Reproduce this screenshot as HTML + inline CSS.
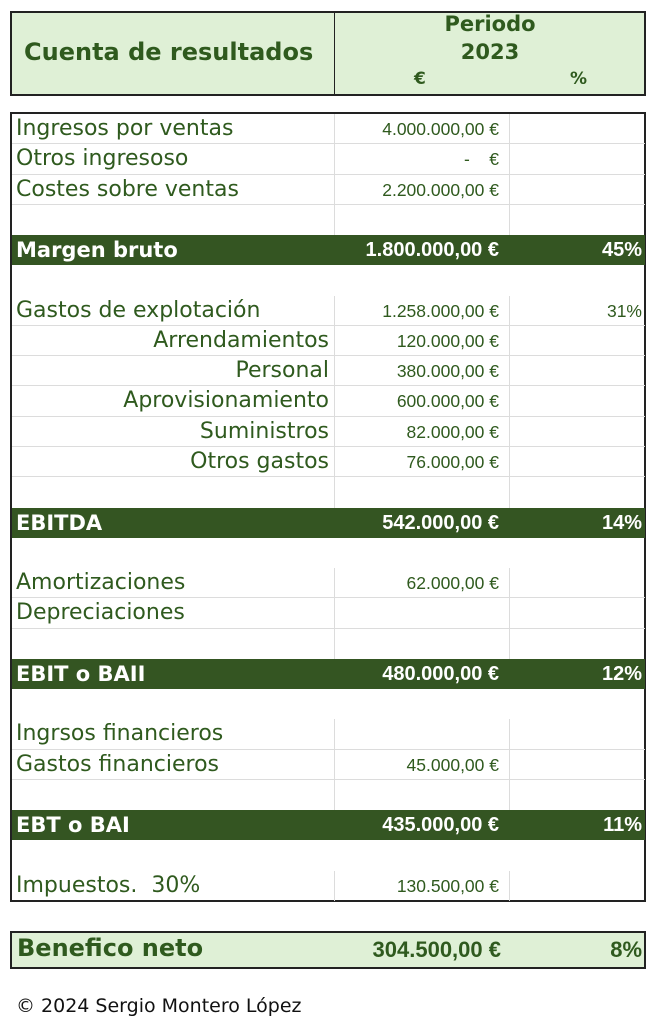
<!DOCTYPE html>
<html><head><meta charset="utf-8">
<style>
html,body{margin:0;padding:0;background:#fff;width:661px;height:1024px;overflow:hidden;position:relative;}
.box{position:absolute;box-sizing:border-box;border:2px solid #222;}
.t{position:absolute;white-space:pre;color:#2f5a1e;}
.lab{font-family:"DejaVu Sans","Liberation Sans",sans-serif;font-size:22px;line-height:26px;}
.num{font-family:"Liberation Sans",sans-serif;font-size:17.5px;text-align:right;}
.row{position:absolute;left:12px;width:633px;}
.dark{background:#345522;}
.dark .t{color:#fff;font-weight:bold;}
.dark .num{font-size:20px;}
.hl{position:absolute;height:1px;background:#dcdcdc;}
.vl{position:absolute;width:1px;background:#dcdcdc;}
</style></head>
<body>
<div class="box" style="left:10px;top:11px;width:636px;height:85px;background:#dff0d6;"></div>
<div class="vl" style="left:334px;top:12px;height:83px;background:#222;"></div>
<div class="t" style="left:24px;top:38px;font:bold 24px 'DejaVu Sans',sans-serif;">Cuenta de resultados</div>
<div class="t" style="left:335px;width:310px;top:10px;text-align:center;font:bold 21px 'DejaVu Sans',sans-serif;line-height:28px;">Periodo<br>2023</div>
<div class="t" style="left:414px;top:69px;font:bold 17px 'DejaVu Sans',sans-serif;">€</div>
<div class="t" style="left:570px;top:69px;font:bold 17px 'DejaVu Sans',sans-serif;">%</div>

<div class="box" id="tbl" style="left:10px;top:112px;width:636px;height:790px;"></div>

<div class="box" style="left:10px;top:931px;width:636px;height:38px;background:#dff0d6;"></div>
<div class="t" style="left:17px;top:934px;font:bold 24px 'DejaVu Sans',sans-serif;">Benefico neto</div>
<div class="t" style="right:160px;top:937px;font:bold 22px 'Liberation Sans',sans-serif;">304.500,00 €</div>
<div class="t" style="right:19px;top:937px;font:bold 22px 'Liberation Sans',sans-serif;">8%</div>

<div class="t" style="left:16px;top:995px;font:19px 'DejaVu Sans',sans-serif;color:#111;">© 2024 Sergio Montero López</div>

<script>
const labels=["Ingresos por ventas","Otros ingresoso","Costes sobre ventas","","Margen bruto","","Gastos de explotación","Arrendamientos","Personal","Aprovisionamiento","Suministros","Otros gastos","","EBITDA","","Amortizaciones","Depreciaciones","","EBIT o BAII","","Ingrsos financieros","Gastos financieros","","EBT o BAI","","Impuestos.  30%"];
const values=["4.000.000,00 €","-    €","2.200.000,00 €","","1.800.000,00 €","","1.258.000,00 €","120.000,00 €","380.000,00 €","600.000,00 €","82.000,00 €","76.000,00 €","","542.000,00 €","","62.000,00 €","","","480.000,00 €","","","45.000,00 €","","435.000,00 €","","130.500,00 €"];
const percents=["","","","","45%","","31%","","","","","","","14%","","","","","12%","","","","","11%","",""];
const kinds=["n","n","n","n","d","g","n","i","i","i","i","i","n","d","g","n","n","n","d","g","n","n","n","d","g","n"];

const top0=114, rh=30.27;
for(let i=0;i<labels.length;i++){
  const y=top0+i*rh;
  const k=kinds[i];
  const row=document.createElement('div');
  row.className='row'+(k==='d'?' dark':'');
  
  
  row.style.top=y+'px';row.style.height=rh+'px';
  if(k!=='d'&&k!=='g'){
    const v1=document.createElement('div');v1.className='vl';
    
    
    v1.style.left='322px';v1.style.top='0';v1.style.height=rh+'px';row.appendChild(v1);
    const v2=document.createElement('div');v2.className='vl';
    
    
    v2.style.left='497px';v2.style.top='0';v2.style.height=rh+'px';row.appendChild(v2);
    const next=kinds[i+1];
    if(next&&next!=='d'){
      const h=document.createElement('div');h.className='hl';
      
      
      h.style.left='0';h.style.width='633px';h.style.top=(rh-1)+'px';row.appendChild(h);
    }
  }
  if(labels[i]){
    const l=document.createElement('div');l.className='t lab';
    
    
    l.textContent=labels[i];
    l.style.top='2px';
    if(k==='i'){l.style.right='316px';}else{l.style.left='4px';}
    if(k==='d'){l.style.fontSize='21px';}
    row.appendChild(l);
  }
  if(values[i]){
    const v=document.createElement('div');v.className='t num';
    
    
    v.textContent=values[i];
    v.style.right='146px';v.style.top=(k==='d'?'4px':'5px');row.appendChild(v);
  }
  if(percents[i]){
    const p=document.createElement('div');p.className='t num';
    
    
    p.textContent=percents[i];
    p.style.right='3px';p.style.top=(k==='d'?'4px':'5px');row.appendChild(p);
  }
  document.body.appendChild(row);
}
</script>
</body></html>
